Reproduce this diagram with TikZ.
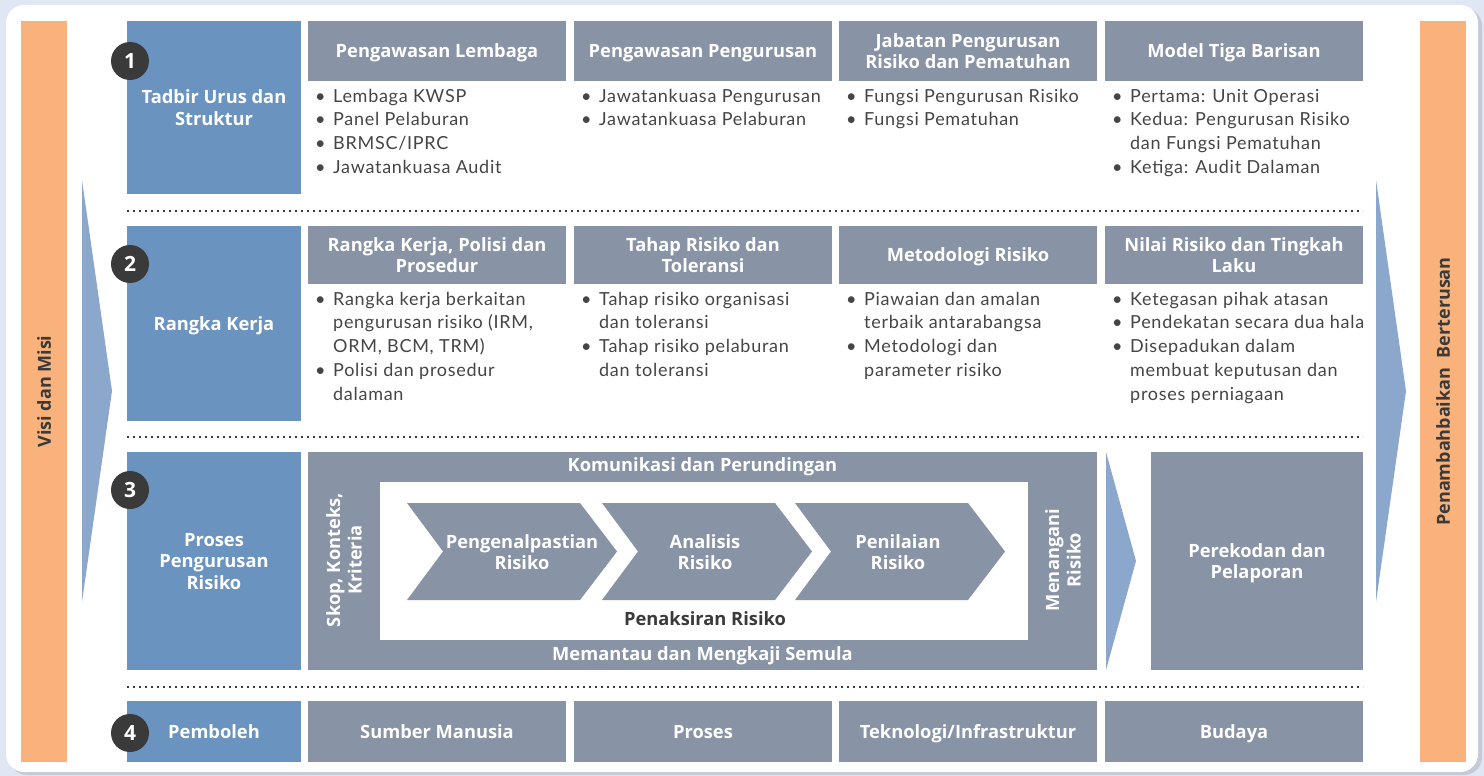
\documentclass[tikz,border=0pt]{standalone}
\usepackage{fontspec}
\setmainfont{Lato}[LetterSpace=4]
\newfontfamily\hf{Open Sans}
\definecolor{cbg}{HTML}{DEE7F3}
\definecolor{cshadow}{HTML}{C5CAD6}
\definecolor{corange}{HTML}{F9B27B}
\definecolor{cblue}{HTML}{6A94BF}
\definecolor{cgrey}{HTML}{8893A5}
\definecolor{carrow}{HTML}{8BA8CC}
\definecolor{cdark}{HTML}{3A3A3A}
\definecolor{cbody}{HTML}{454545}
\newcommand{\bul}{\makebox[18pt][l]{\textbullet}}
\newcommand{\ind}{\hspace*{18pt}}
\begin{document}
\begin{tikzpicture}[x=1pt,y=-1pt,
  hfont/.style={font=\hf\bfseries\fontsize{18.3}{21.5}\selectfont},
  bluebox/.style={fill=cblue, text=white, hfont, align=center, inner sep=0pt, outer sep=0pt, text depth=0pt},
  greybox/.style={fill=cgrey, text=white, hfont, align=center, inner sep=0pt, outer sep=0pt, text depth=0pt},
  orangebar/.style={fill=corange, text=cdark, font=\hf\bfseries\fontsize{18}{21}\selectfont, inner sep=0pt, outer sep=0pt},
  bodytext/.style={anchor=north west, align=left, inner sep=0pt, text=cbody, font=\fontsize{18}{23.7}\selectfont},
  wlabel/.style={text=white, hfont, align=center, inner sep=0pt},
  numc/.style={circle, fill=cdark, minimum size=38pt, inner sep=0pt, text=white, font=\hf\bfseries\fontsize{21}{21}\selectfont},
  dotline/.style={draw=cdark, line width=1.6pt, dash pattern=on 1.6pt off 4.4pt},
  arrowfill/.style={fill=carrow}
]
\useasboundingbox (0,0) rectangle (1484,776);
\fill[cbg] (0,0) rectangle (1484,776);
\fill[cshadow, rounded corners=18pt] (9,8) rectangle (1482,775);
\fill[white, rounded corners=18pt] (6,5) rectangle (1478,772);

% side bars
\node[orangebar, rotate=90, minimum width=741pt, minimum height=46pt] (visi) at (44,391.5) {Visi dan Misi};
\node[orangebar, rotate=90, minimum width=741pt, minimum height=46pt] (pena) at (1443,391.5) {Penambahbaikan\ \ Berterusan};
\fill[arrowfill] (82,180) -- (112,391) -- (82,602) -- cycle;
\fill[arrowfill] (1376,180) -- (1406,391) -- (1376,602) -- cycle;

% row label boxes
\node[bluebox, minimum width=174pt, minimum height=173pt] (r1) at (214,107.5) {Tadbir Urus dan\\Struktur};
\node[bluebox, minimum width=174pt, minimum height=195pt] (r2) at (214,323.5) {Rangka Kerja};
\node[bluebox, minimum width=174pt, minimum height=218pt] (r3) at (214,561) {Proses\\Pengurusan\\Risiko};
\node[bluebox, minimum width=174pt, minimum height=61pt] (r4) at (214,731.5) {Pemboleh};

% row 1 headers
\node[greybox, minimum width=258pt, minimum height=60pt] (h11) at (437,51) {Pengawasan Lembaga};
\node[greybox, minimum width=258pt, minimum height=60pt] (h12) at (703,51) {Pengawasan Pengurusan};
\node[greybox, minimum width=258pt, minimum height=60pt] (h13) at (968,51) {Jabatan Pengurusan\\Risiko dan Pematuhan};
\node[greybox, minimum width=258pt, minimum height=60pt] (h14) at (1234,51) {Model Tiga Barisan};

% row 1 bodies
\node[bodytext] (b11) at (315,88) {\rule{0pt}{14pt}\bul Lembaga KWSP\\\bul Panel Pelaburan\\\bul BRMSC/IPRC\\\bul Jawatankuasa Audit};
\node[bodytext] (b12) at (581,88) {\rule{0pt}{14pt}\bul Jawatankuasa Pengurusan\\\bul Jawatankuasa Pelaburan};
\node[bodytext] (b13) at (846,88) {\rule{0pt}{14pt}\bul Fungsi Pengurusan Risiko\\\bul Fungsi Pematuhan};
\node[bodytext] (b14) at (1112,88) {\rule{0pt}{14pt}\bul Pertama: Unit Operasi\\\bul Kedua: Pengurusan Risiko\\\ind dan Fungsi Pematuhan\\\bul Ketiga: Audit Dalaman};

\coordinate (d1a) at (127,211); \coordinate (d1b) at (1363,211);
\draw[dotline] (d1a) -- (d1b);

% row 2 headers
\node[greybox, minimum width=258pt, minimum height=58pt] (h21) at (437,255) {Rangka Kerja, Polisi dan\\Prosedur};
\node[greybox, minimum width=258pt, minimum height=58pt] (h22) at (703,255) {Tahap Risiko dan\\Toleransi};
\node[greybox, minimum width=258pt, minimum height=58pt] (h23) at (968,255) {Metodologi Risiko};
\node[greybox, minimum width=258pt, minimum height=58pt] (h24) at (1234,255) {Nilai Risiko dan Tingkah\\Laku};

% row 2 bodies
\node[bodytext] (b21) at (315,291) {\rule{0pt}{14pt}\bul Rangka kerja berkaitan\\\ind pengurusan risiko (IRM,\\\ind ORM, BCM, TRM)\\\bul Polisi dan prosedur\\\ind dalaman};
\node[bodytext] (b22) at (581,291) {\rule{0pt}{14pt}\bul Tahap risiko organisasi\\\ind dan toleransi\\\bul Tahap risiko pelaburan\\\ind dan toleransi};
\node[bodytext] (b23) at (846,291) {\rule{0pt}{14pt}\bul Piawaian dan amalan\\\ind terbaik antarabangsa\\\bul Metodologi dan\\\ind parameter risiko};
\node[bodytext] (b24) at (1112,291) {\rule{0pt}{14pt}\bul Ketegasan pihak atasan\\\bul Pendekatan secara dua hala\\\bul Disepadukan dalam\\\ind membuat keputusan dan\\\ind proses perniagaan};

\coordinate (d2a) at (127,437); \coordinate (d2b) at (1363,437);
\draw[dotline] (d2a) -- (d2b);

% row 3 process
\node[greybox, minimum width=789pt, minimum height=218pt] (proc) at (702.5,561) {};
\node[fill=white, minimum width=648pt, minimum height=158pt, inner sep=0pt] (inner) at (704,561) {};
\node[wlabel] (kom) at (702.5,467) {Komunikasi dan Perundingan};
\node[wlabel] (mem) at (702.5,656) {Memantau dan Mengkaji Semula};
\node[wlabel, rotate=90] (skop) at (344,560) {Skop, Konteks,\\Kriteria};
\node[wlabel, rotate=90] (men) at (1063,560) {Menangani\\Risiko};
\foreach \L in {407,602,795}{
  \fill[cgrey] (\L,503) -- (\L+173,503) -- (\L+210,551.5) -- (\L+173,600) -- (\L,600) -- (\L+36,551.5) -- cycle;
}
\node[wlabel] (t1) at (522,552) {Pengenalpastian\\Risiko};
\node[wlabel] (t2) at (705,552) {Analisis\\Risiko};
\node[wlabel] (t3) at (898,552) {Penilaian\\Risiko};
\node[hfont, text=cdark, inner sep=0pt] (pen) at (705,619) {Penaksiran Risiko};
\fill[arrowfill] (1106,452) -- (1136,561) -- (1106,670) -- cycle;
\node[greybox, minimum width=212pt, minimum height=218pt] (rek) at (1257,561) {Perekodan dan\\Pelaporan};

\coordinate (d3a) at (127,687); \coordinate (d3b) at (1363,687);
\draw[dotline] (d3a) -- (d3b);

% row 4
\node[greybox, minimum width=258pt, minimum height=61pt] (e1) at (437,731.5) {Sumber Manusia};
\node[greybox, minimum width=258pt, minimum height=61pt] (e2) at (703,731.5) {Proses};
\node[greybox, minimum width=258pt, minimum height=61pt] (e3) at (968,731.5) {Teknologi/Infrastruktur};
\node[greybox, minimum width=258pt, minimum height=61pt] (e4) at (1234,731.5) {Budaya};

% number circles
\node[numc] (n1) at (130,61) {1};
\node[numc] (n2) at (130,264) {2};
\node[numc] (n3) at (130,490) {3};
\node[numc] (n4) at (130,733) {4};
\end{tikzpicture}
\end{document}
